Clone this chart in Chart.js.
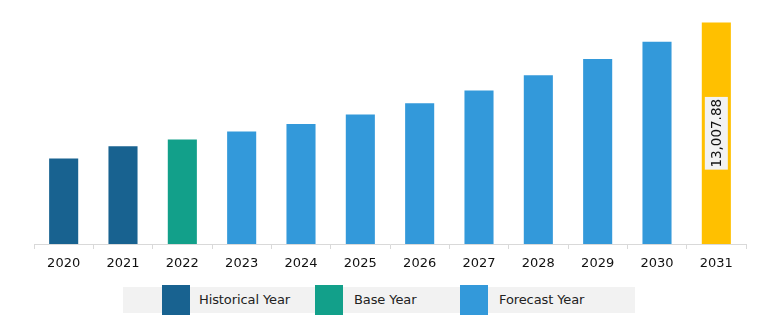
<!DOCTYPE html>
<html>
<head>
<meta charset="utf-8">
<script src="https://cdn.jsdelivr.net/npm/chart.js@4/dist/chart.umd.min.js"></script>
<style>
    body { margin: 0; background: #fff; font-family: "DejaVu Sans", sans-serif; }
    #wrap { position: relative; width: 774px; height: 328px; }
    #chartBox { position: absolute; left: 0; top: 0; width: 774px; height: 280px; }
    .legend-bg { position: absolute; left: 123px; top: 287px; width: 512px; height: 26px; background: #f2f2f2; }
    .sw { position: absolute; top: 285px; width: 28px; height: 30px; }
    .lt { position: absolute; top: 291px; font-size: 13px; color: #222; line-height: 18px; letter-spacing: -0.1px; }
</style>
</head>
<body>
<div id="wrap">
    <div id="chartBox"><canvas id="marketChart"></canvas></div>
    <div class="legend-bg"></div>
    <div class="sw" style="left:162px;background:#186290"></div>
    <div class="lt" style="left:199px">Historical Year</div>
    <div class="sw" style="left:315px;background:#12a08a"></div>
    <div class="lt" style="left:354px">Base Year</div>
    <div class="sw" style="left:460px;background:#3399da"></div>
    <div class="lt" style="left:499px">Forecast Year</div>
</div>
<script>
const years = ['2020', '2021', '2022', '2023', '2024', '2025', '2026', '2027', '2028', '2029', '2030', '2031'];
const marketValues = [5015, 5739, 6133, 6604, 7051, 7605, 8270, 9017, 9918, 10860, 11878, 13007.88];
const yearTypes = ['Historical', 'Historical', 'Base', 'Forecast', 'Forecast', 'Forecast', 'Forecast', 'Forecast', 'Forecast', 'Forecast', 'Forecast', 'Highlight'];
const labelledIndex = 11;

const typeColors = {
    Historical: '#186290',
    Base: '#12a08a',
    Forecast: '#3399da',
    Highlight: '#ffc000'
};

// rotated value label with a light box, drawn on the last bar only
const valueLabel = {
    id: 'valueLabel',
    afterDatasetsDraw(chart) {
        const bar = chart.getDatasetMeta(0).data[labelledIndex];
        if (!bar) return;
        const ctx = chart.ctx;
        const text = marketValues[labelledIndex].toLocaleString('en-US', { minimumFractionDigits: 2 });
        const cy = (bar.y + bar.base) / 2;
        ctx.save();
        ctx.translate(bar.x, cy);
        ctx.rotate(-Math.PI / 2);
        ctx.font = '13.5px "DejaVu Sans", sans-serif';
        const w = ctx.measureText(text).width + 4;
        ctx.fillStyle = '#f2f2f2';
        ctx.fillRect(-w / 2, -11.5, w, 23);
        ctx.fillStyle = '#111';
        ctx.textAlign = 'center';
        ctx.textBaseline = 'middle';
        ctx.fillText(text, 0, 1);
        ctx.restore();
    }
};

new Chart(document.getElementById('marketChart'), {
    type: 'bar',
    data: {
        labels: years,
        datasets: [{
            data: marketValues,
            backgroundColor: yearTypes.map(t => typeColors[t]),
            barPercentage: 0.49,
            categoryPercentage: 1
        }]
    },
    options: {
        responsive: true,
        maintainAspectRatio: false,
        animation: false,
        layout: { padding: { left: 34, right: 28, top: 10, bottom: 0 } },
        plugins: { legend: { display: false }, tooltip: { enabled: false } },
        scales: {
            x: {
                grid: { offset: true, drawOnChartArea: false, tickLength: 5, color: '#d9d9d9' },
                border: { color: '#d9d9d9' },
                ticks: { color: '#111', font: { family: '"DejaVu Sans", sans-serif', size: 13 }, padding: 7 },
                afterFit: (s) => { s.height = 36; }
            },
            y: { display: false, min: 0, max: 13744 }
        }
    },
    plugins: [valueLabel]
});
</script>
</body>
</html>
